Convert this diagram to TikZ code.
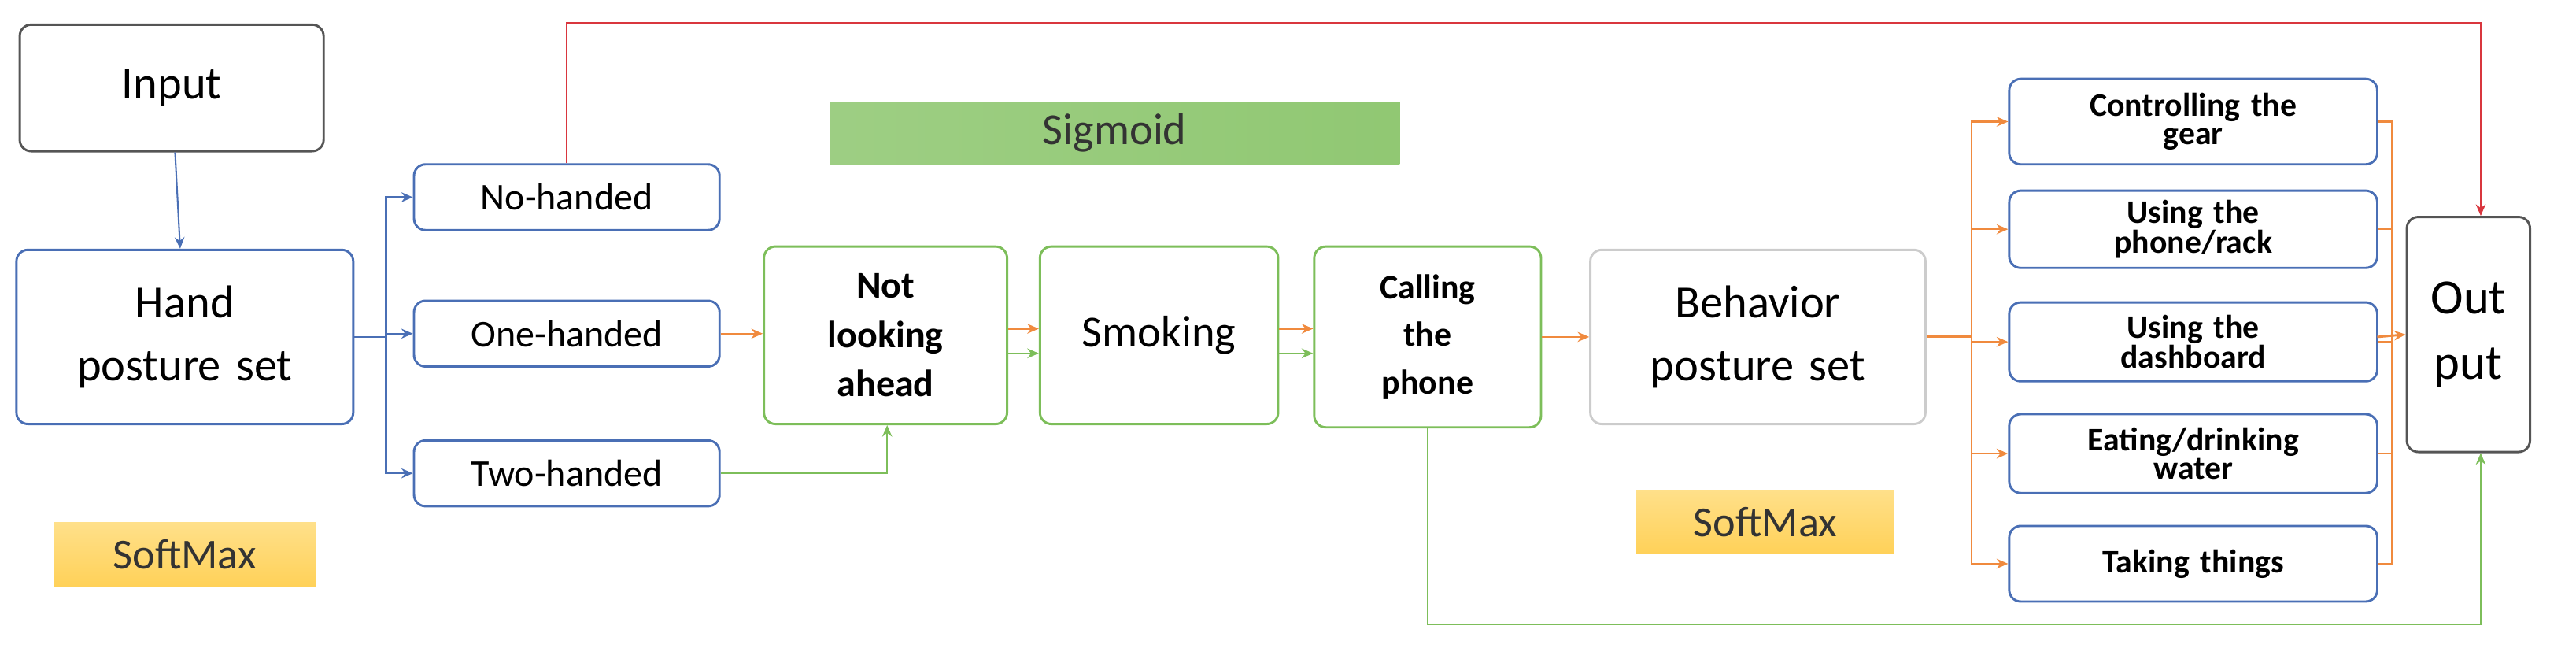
\documentclass[tikz,border=0pt]{standalone}
\usepackage{fontspec}
\setmainfont{Carlito}
\usetikzlibrary{arrows.meta}
\definecolor{cb}{HTML}{4A6FB5}
\definecolor{cg}{HTML}{7DBE5A}
\definecolor{co}{HTML}{F08A3E}
\definecolor{cr}{HTML}{D9363E}
\definecolor{cgr}{HTML}{555555}
\definecolor{sy1}{HTML}{FFE08A}
\definecolor{sy2}{HTML}{FFD158}
\begin{document}
\begin{tikzpicture}[x=1pt,y=-1pt,
 box/.style={draw,rounded corners=7pt,line width=1.4pt,align=center,inner sep=0pt,text width=#1},
 bb/.style={box=#1,draw=cb},
 gb/.style={box=#1,draw=cg},
 kb/.style={box=#1,draw=cgr},
 ar/.style={-{Stealth[length=7pt,width=6pt]},line width=1pt},
 lab/.style={inner sep=0pt,align=center}]
\useasboundingbox (0,0) rectangle (1568,394);
% nodes
\node[kb=185pt,minimum height=77pt,font=\fontsize{28}{32}\selectfont] (in) at (104.5,53.5) {Input};
\node[bb=205pt,minimum height=106pt,font=\fontsize{28}{38}\selectfont] (hand) at (112.5,205) {Hand\\posture set};
\node[bb=186pt,minimum height=40pt,font=\fontsize{23}{26}\selectfont] (no) at (345,120) {No-handed};
\node[bb=186pt,minimum height=40pt,font=\fontsize{23}{26}\selectfont] (one) at (345,203) {One-handed};
\node[bb=186pt,minimum height=40pt,font=\fontsize{23}{26}\selectfont] (two) at (345,288) {Two-handed};
\node[gb=148pt,minimum height=108pt,font=\bfseries\fontsize{23}{30}\selectfont] (not) at (539,204) {Not\\looking\\ahead};
\node[gb=145pt,minimum height=108pt,font=\fontsize{27}{30}\selectfont] (smk) at (705.5,204) {Smoking};
\node[gb=138pt,minimum height=110pt,font=\bfseries\fontsize{21}{29}\selectfont] (call) at (869,205) {Calling\\the\\phone};
\node[box=204pt,draw=gray!40,minimum height=106pt,font=\fontsize{28}{38}\selectfont] (beh) at (1070,205) {Behavior\\posture set};
\node[kb=75pt,minimum height=143pt,font=\fontsize{30}{40}\selectfont] (out) at (1502.5,203.5) {Out\\put};
\foreach \n/\y/\h/\t in {r1/74/52/{Controlling the\\gear},r2/139.5/47/{Using the\\phone/rack},r3/208/48/{Using the\\dashboard},r4/276/48/{Eating/drinking\\water},r5/343/46/{Taking things}}
  \node[bb=224pt,minimum height=\h pt,font=\bfseries\fontsize{20}{17}\selectfont] (\n) at (1335,\y) {\t};
\node[lab,minimum width=347pt,minimum height=38pt,left color=cg!75,right color=cg!85,text=black!80,font=\fontsize{27}{30}\selectfont] (sig) at (678.5,81) {Sigmoid};
\node[lab,minimum width=159pt,minimum height=39pt,top color=sy1,bottom color=sy2,text=black!80,font=\fontsize{26}{30}\selectfont] (sm1) at (112.5,337.5) {SoftMax};
\node[lab,minimum width=157pt,minimum height=39pt,top color=sy1,bottom color=sy2,text=black!80,font=\fontsize{26}{30}\selectfont] (sm2) at (1074.5,317.5) {SoftMax};
% connectors
\draw[ar,draw=cb,fill=cb] (in) -- (hand);
\draw[draw=cb,line width=1pt] (hand.east) -- (235,205);
\foreach \n in {no,one,two} \draw[ar,draw=cb] (235,205) |- (\n.west);
\draw[ar,draw=co] (one) -- (not.west|-one);
\draw[ar,draw=co] (not.east|-0,200) -- (smk.west|-0,200);
\draw[ar,draw=cg] (not.east|-0,215) -- (smk.west|-0,215);
\draw[ar,draw=co] (smk.east|-0,200) -- (call.west|-0,200);
\draw[ar,draw=cg] (smk.east|-0,215) -- (call.west|-0,215);
\draw[ar,draw=co] (call.east|-0,205) -- (beh.west|-0,205);
\draw[ar,draw=cg] (two.east) -| (not.south-|540,0);
\draw[draw=co,line width=1.4pt] (beh.east) -- (1200,205);
\foreach \n in {r1,r2,r3,r4,r5} \draw[ar,draw=co] (1200,205) |- (\n.west);
\foreach \n in {r1,r2,r3,r4,r5} \draw[draw=co,line width=1pt] (\n.east) -- (1456,0|-\n.east) -- (1456,205);
\draw[ar,draw=co,line width=1.4pt] (1447,205) -- (out.west);
\draw[ar,draw=cr] (no.north) |- (1510,14) -- (out.north-|1510,0);
\draw[ar,draw=cg] (call.south) |- (1510,380) -- (out.south-|1510,0);
\end{tikzpicture}
\end{document}
